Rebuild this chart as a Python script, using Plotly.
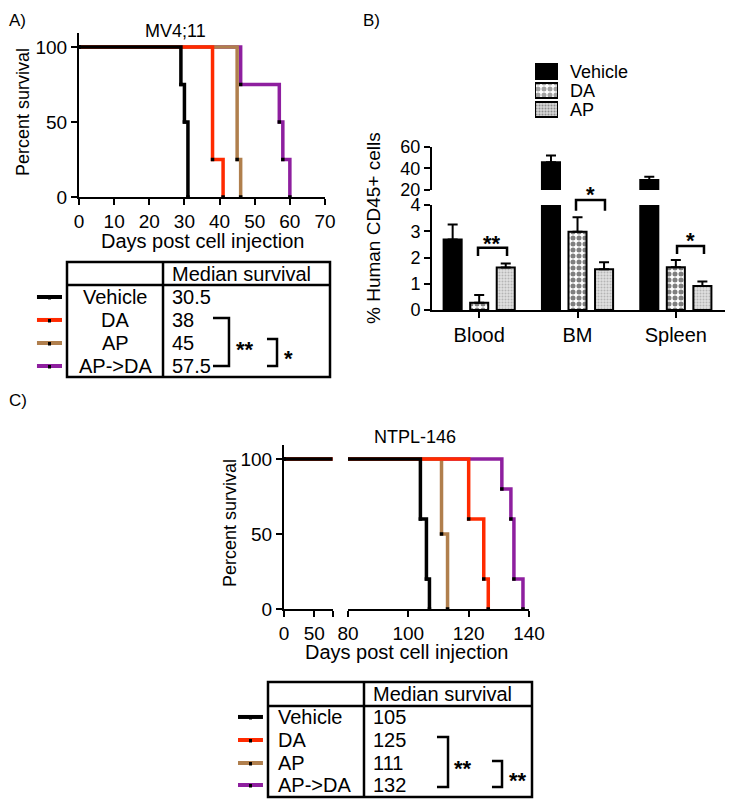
import plotly.graph_objects as go

W, H = 733, 810
PAD = 8  # the page body keeps a default 8px margin
FW, FH = W - 2 * PAD, H - 2 * PAD
FONT = "Liberation Sans, Arial, Helvetica, sans-serif"

groups = ["Vehicle", "DA", "AP", "AP->DA"]
colors = ["black", "#ff2a00", "#b07f4d", "#8e1f9f"]

# panel A - MV4;11 survival
a_vehicle_days = [0, 29, 30, 31]
a_vehicle_surv = [100, 75, 50, 0]
a_da_days = [0, 38, 41]
a_da_surv = [100, 25, 0]
a_ap_days = [0, 45, 46]
a_ap_surv = [100, 25, 0]
a_apda_days = [0, 46, 57, 58, 60]
a_apda_surv = [100, 75, 50, 25, 0]
a_median = ["30.5", "38", "45", "57.5"]

# panel C - NTPL-146 survival
c_vehicle_days = [0, 104, 106, 107]
c_vehicle_surv = [100, 60, 20, 0]
c_da_days = [0, 120, 125, 126.5]
c_da_surv = [100, 60, 20, 0]
c_ap_days = [0, 111, 113]
c_ap_surv = [100, 50, 0]
c_apda_days = [0, 131, 134, 135, 138]
c_apda_surv = [100, 80, 60, 20, 0]
c_median = ["105", "125", "111", "132"]

# panel B - human CD45+ cells
tissues = ["Blood", "BM", "Spleen"]
b_series = ["Vehicle", "DA", "AP"]
b_vehicle = [2.69, 45.6, 29.2]
b_vehicle_err = [0.57, 6.2, 3.1]
b_da = [0.28, 2.98, 1.63]
b_da_err = [0.29, 0.55, 0.27]
b_ap = [1.62, 1.55, 0.91]
b_ap_err = [0.15, 0.27, 0.18]


def fx(x):
    return (x - PAD) / FW


def fy(y):
    return 1 - (y - PAD) / FH


fig = go.Figure()

axis = dict(showline=True, linecolor="black", linewidth=2, ticks="outside",
            ticklen=6, tickwidth=2, tickcolor="black", showgrid=False,
            zeroline=False, automargin=False,
            tickfont=dict(size=19, color="black", family=FONT))
hidden = dict(visible=False, automargin=False)

a_days = [a_vehicle_days, a_da_days, a_ap_days, a_apda_days]
a_surv = [a_vehicle_surv, a_da_surv, a_ap_surv, a_apda_surv]
c_days = [c_vehicle_days, c_da_days, c_ap_days, c_apda_days]
c_surv = [c_vehicle_surv, c_da_surv, c_ap_surv, c_apda_surv]

# draw purple first so black ends up on top
for i in reversed(range(4)):
    step = dict(mode="lines+markers", showlegend=False, name=groups[i],
                line=dict(color=colors[i], width=3.5, shape="hv"),
                marker=dict(color="black", size=3.5, symbol="square"))
    fig.add_trace(go.Scatter(x=a_days[i], y=a_surv[i], xaxis="x", yaxis="y", **step))
    fig.add_trace(go.Scatter(x=c_days[i], y=c_surv[i], xaxis="x4", yaxis="y4", **step))
    fig.add_trace(go.Scatter(x=c_days[i], y=c_surv[i], xaxis="x5", yaxis="y5", **step))

# bars, drawn in both halves of the broken axis
b_vals = [b_vehicle, b_da, b_ap]
b_errs = [b_vehicle_err, b_da_err, b_ap_err]
b_fill = ["black", "white", "#d6d6d6"]
b_pattern = [dict(shape=""),
             dict(shape=".", fgcolor="black", bgcolor="white", size=6, solidity=0.55),
             dict(shape=".", fgcolor="#8a8a8a", bgcolor="#e0e0e0", size=3, solidity=0.35)]
for k in range(3):
    for xa, ya in [("x2", "y2"), ("x3", "y3")]:
        fig.add_trace(go.Bar(
            x=tissues, y=b_vals[k], name=b_series[k], xaxis=xa, yaxis=ya,
            showlegend=False,
            marker=dict(color=b_fill[k], line=dict(color="black", width=2),
                        pattern=b_pattern[k]),
            error_y=dict(type="data", symmetric=False, array=b_errs[k],
                         arrayminus=[0, 0, 0], color="black", thickness=2, width=5)))

# legend swatches for panel B
fig.add_trace(go.Bar(
    y=b_series, x=[1, 1, 1], orientation="h", width=0.8, xaxis="x6", yaxis="y6",
    showlegend=False,
    marker=dict(color=b_fill, line=dict(color="black", width=2),
                pattern=dict(shape=["", ".", "."], fgcolor=["black", "black", "#8a8a8a"],
                             bgcolor=["black", "white", "#e0e0e0"], size=[6, 6, 3],
                             solidity=[0.55, 0.55, 0.35]))))
for name in b_series:
    fig.add_annotation(x=1, y=name, xref="x6", yref="y6", xshift=11, text=name,
                       showarrow=False, xanchor="left", yanchor="middle",
                       font=dict(size=18), borderpad=0)

b_ytick = dict(size=18, color="black", family=FONT)

fig.update_layout(
    width=FW, height=FH, margin=dict(l=0, r=0, t=0, b=0, autoexpand=False),
    plot_bgcolor="white", paper_bgcolor="white",
    font=dict(family=FONT, size=19, color="black"),
    barmode="group", bargap=0.19, bargroupgap=0.32,
    xaxis=dict(axis, domain=[fx(79), fx(325)], range=[0, 70], dtick=10, anchor="y"),
    yaxis=dict(axis, domain=[fy(197), fy(33)], range=[0, 109.3], tickvals=[0, 50, 100], anchor="x"),
    xaxis2=dict(axis, domain=[fx(432), fx(725)], range=[-0.48, 2.5], anchor="y2",
                tickfont=dict(size=20)),
    yaxis2=dict(axis, domain=[fy(310), fy(205)], range=[0, 4], dtick=1, anchor="x2",
                tickfont=b_ytick),
    xaxis3=dict(hidden, domain=[fx(432), fx(725)], range=[-0.48, 2.5], anchor="y3",
                matches="x2"),
    yaxis3=dict(axis, domain=[fy(190), fy(146.7)], range=[20, 60], tickvals=[20, 40, 60],
                anchor="x3", tickfont=b_ytick),
    xaxis4=dict(axis, domain=[fx(284), fx(332.5)], range=[0, 80], tickvals=[0, 50, 80],
                ticktext=["0", "50", ""], anchor="y4"),
    yaxis4=dict(axis, domain=[fy(609), fy(445)], range=[0, 109.3], tickvals=[0, 50, 100],
                anchor="x4"),
    xaxis5=dict(axis, domain=[fx(348), fx(529)], range=[80, 140], tickvals=[80, 100, 120, 140],
                anchor="y5"),
    yaxis5=dict(hidden, domain=[fy(609), fy(445)], range=[0, 109.3], anchor="x5"),
    xaxis6=dict(hidden, domain=[fx(535), fx(558)], range=[0, 1], anchor="y6"),
    yaxis6=dict(hidden, domain=[fy(119), fy(62)], range=[2.5, -0.5], anchor="x6"),
)


def text(x, y, s, size=19, anchor="center", angle=0):
    fig.add_annotation(x=fx(x), y=fy(y), xref="paper", yref="paper", text=s,
                       showarrow=False, xanchor=anchor, yanchor="middle",
                       textangle=angle, font=dict(size=size, family=FONT),
                       borderpad=0)


def path(pts, width=2.5, color="black"):
    d = "M " + " L ".join("%.4f,%.4f" % (fx(px), fy(py)) for px, py in pts)
    fig.add_shape(type="path", path=d, xref="paper", yref="paper",
                  line=dict(color=color, width=width))


def stars(x, y, s):
    text(x, y + 5, "<b>" + s + "</b>", size=22)


# panel labels and titles
text(8, 20, "A)", size=17, anchor="left")
text(362, 20, "B)", size=17, anchor="left")
text(8, 400, "C)", size=17, anchor="left")
text(175, 31, "MV4;11", size=18)
text(415, 437, "NTPL-146", size=18)
text(23, 112, "Percent survival", size=18, angle=-90)
text(230, 523, "Percent survival", size=18, angle=-90)
text(202, 241, "Days post cell injection", size=20)
text(407, 652, "Days post cell injection", size=20)
text(373, 228, "% Human CD45+ cells", size=19, angle=-90)

# panel B significance brackets
path([(478, 256), (478, 247.7), (507, 247.7), (507, 256)], width=2.5)
stars(492, 238, "**")
path([(576, 210.7), (576, 200), (605, 200), (605, 210.7)], width=2.5)
stars(590, 190, "*")
path([(677, 254), (677, 246), (704, 246), (704, 254)], width=2.5)
stars(690, 235, "*")


def table(x0, x1, xdiv, y0, yhead, y1, rows, medians, name_x, name_anchor, line_x0, line_x1):
    fig.add_shape(type="rect", x0=fx(x0), x1=fx(x1), y0=fy(y1), y1=fy(y0),
                  xref="paper", yref="paper", line=dict(color="black", width=2.5))
    path([(x0, yhead), (x1, yhead)])
    path([(xdiv, y0), (xdiv, y1)])
    text(xdiv + 8, (y0 + yhead) / 2, "Median survival", size=20, anchor="left")
    for i, ry in enumerate(rows):
        text(name_x, ry, groups[i], size=20, anchor=name_anchor)
        text(xdiv + 8, ry, medians[i], size=20, anchor="left")
        path([(line_x0, ry), (line_x1, ry)], width=4, color=colors[i])
        mx = (line_x0 + line_x1) / 2
        fig.add_shape(type="rect", x0=fx(mx - 1.5), x1=fx(mx + 1.5), y0=fy(ry + 2.5),
                      y1=fy(ry - 1), xref="paper", yref="paper",
                      fillcolor="black", line=dict(width=0))


table(67, 330, 163, 262, 285, 377, [297, 320, 343, 366], a_median, 115, "center", 37, 62)
path([(213, 318), (229, 318), (229, 366), (213, 366)])
stars(245, 344, "**")
path([(267, 339), (277, 339), (277, 366), (267, 366)])
stars(288, 353, "*")

table(268, 532, 364, 682, 706, 797, [717, 740, 763, 785], c_median, 277, "left", 238, 263)
path([(437, 737), (448, 737), (448, 787), (437, 787)])
stars(463, 763, "**")
path([(492, 761), (502, 761), (502, 787), (492, 787)])
stars(518, 775, "**")

fig.write_html("out.html")
